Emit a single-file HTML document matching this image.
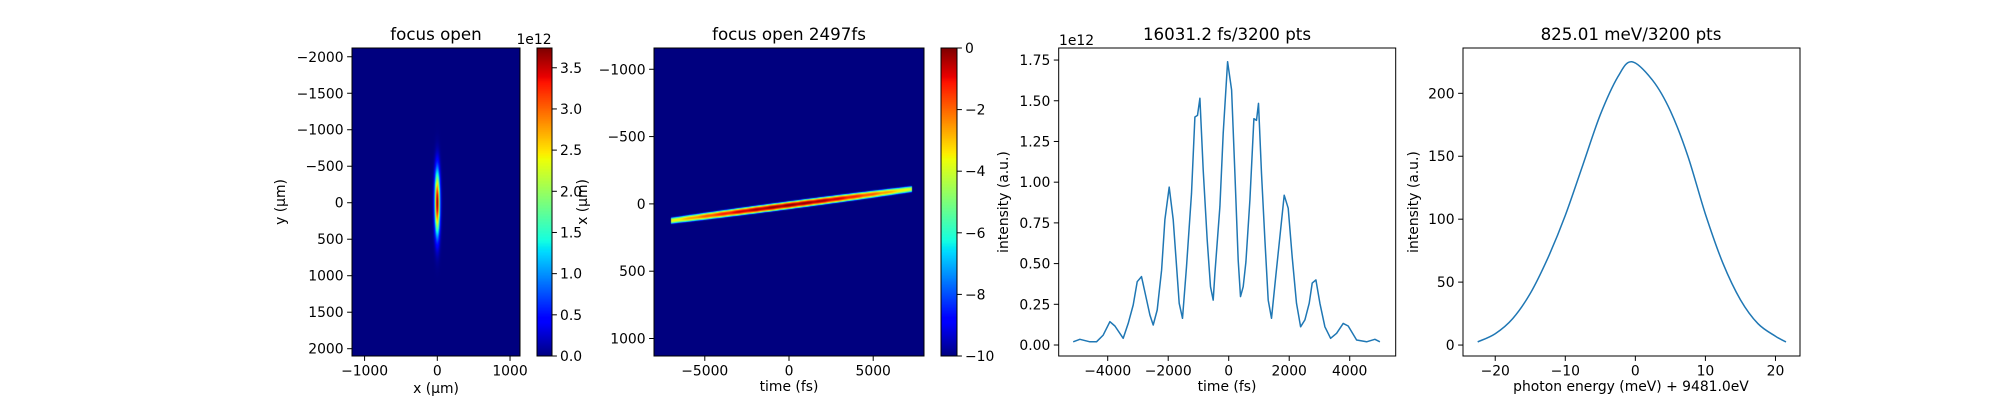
<!DOCTYPE html>
<html><head><meta charset="utf-8">
<style>
html,body{margin:0;padding:0;background:#fff;}
#wrap{position:relative;width:2000px;height:400px;overflow:hidden;font-family:"DejaVu Sans","Liberation Sans",sans-serif;}
canvas{position:absolute;}
svg{position:absolute;left:0;top:0;}
text{font-family:"DejaVu Sans","Liberation Sans",sans-serif;fill:#000;}
</style></head>
<body>
<div id="wrap">
<canvas id="hm1"></canvas>
<canvas id="hm2"></canvas>
<canvas id="cb1"></canvas>
<canvas id="cb2"></canvas>
<svg id="svg" width="2000" height="400"></svg>
</div>
<script>
// ---- panel 3 data: time profile ----
const timeFs = [-5140,-4919,-4589,-4369,-4148,-3928,-3763,-3487,-3322,-3157,-3025,-2882,-2738,-2606,-2496,-2364,-2220,-2110,-1967,-1835,-1747,-1637,-1526,-1394,-1229,-1119,-1031,-954,-843,-711,-601,-513,-457,-292,-182,-38,94,204,314,391,480,568,700,832,920,986,1085,1195,1306,1416,1559,1691,1835,1967,2099,2242,2375,2518,2661,2761,2882,3014,3179,3367,3565,3785,3950,4226,4557,4832,4997];
const intensity1e12 = [0.02,0.035,0.02,0.02,0.061,0.143,0.117,0.041,0.133,0.246,0.389,0.42,0.297,0.184,0.123,0.215,0.46,0.77,0.97,0.77,0.54,0.256,0.164,0.48,0.93,1.40,1.41,1.515,1.075,0.645,0.358,0.276,0.44,0.85,1.30,1.74,1.566,1.054,0.52,0.297,0.358,0.51,0.89,1.39,1.38,1.484,1.054,0.645,0.276,0.164,0.43,0.665,0.92,0.84,0.54,0.256,0.112,0.154,0.256,0.38,0.40,0.256,0.112,0.041,0.072,0.133,0.117,0.031,0.02,0.035,0.02];
// ---- panel 4 data: spectrum ----
const energyMeV = [-22.5,-20,-17.5,-15,-12.5,-10,-7.5,-5,-2.5,-0.5,2.5,5,7.5,10,12.5,15,17.5,20,21.5];
const spectrum = [2.5,9,21,41,69,103,143,183,213,225,210,186,150,104,65,36,17,7,2.5];
// ---- ticks ----
const p1XTicks=[-1000,0,1000], p1YTicks=[-2000,-1500,-1000,-500,0,500,1000,1500,2000];
const cb1Ticks=[0,0.5,1,1.5,2,2.5,3,3.5];
const p2XTicks=[-5000,0,5000], p2YTicks=[-1000,-500,0,500,1000];
const cb2Ticks=[0,-2,-4,-6,-8,-10];
const p3XTicks=[-4000,-2000,0,2000,4000], p3YTicks=[0,0.25,0.5,0.75,1,1.25,1.5,1.75];
const p4XTicks=[-20,-10,0,10,20], p4YTicks=[0,50,100,150,200];
// ---- heatmap parameters ----
const focusPeak=3.7, focusSigX=24, focusSigY=290;
const beamStart=[-7000,125], beamEnd=[7300,-110], beamSig=5, beamEnvWidth=1800;

const NS="http://www.w3.org/2000/svg";
const svg=document.getElementById('svg');
function el(tag,attrs,parent){const e=document.createElementNS(NS,tag);for(const k in attrs)e.setAttribute(k,attrs[k]);(parent||svg).appendChild(e);return e;}
function fmt(v,d){let s=d!=null?v.toFixed(d):String(v);return s.replace('-','\u2212');}
function scale(d0,d1,p0,p1){return v=>p0+(v-d0)/(d1-d0)*(p1-p0);}

function jet(t){t=Math.max(0,Math.min(1,t));
 const c=(x)=>Math.max(0,Math.min(1,x));
 const r=c(t<0.35?0:t<0.66?(t-0.35)/0.31:t<0.89?1:1-(t-0.89)/0.11*0.5);
 const g=c(t<0.125?0:t<0.375?(t-0.125)/0.25:t<0.64?1:t<0.91?1-(t-0.64)/0.27:0);
 const b=c(t<0.11?0.5+t/0.11*0.5:t<0.34?1:t<0.65?1-(t-0.34)/0.31:0);
 return [r*255|0,g*255|0,b*255|0];}

function axesFrame(name,x0,y0,x1,y1,xs,ys,xt,yt,xd,yd){
 const g=el('g',{});
 el('rect',{x:x0,y:y0,width:x1-x0,height:y1-y0,fill:'none',stroke:'#000','stroke-width':1},g);
 const gx=el('g',{},g);
 xt.forEach(v=>{const x=xs(v);el('line',{x1:x,x2:x,y1:y1,y2:y1+4.9,stroke:'#000','stroke-width':1},gx);
  const t=el('text',{x:x,y:y1+19.5,'font-size':13.9,'text-anchor':'middle'},gx);t.textContent=fmt(v,xd);});
 const gy=el('g',{},g);
 yt.forEach(v=>{const y=ys(v);el('line',{x1:x0,x2:x0-4.9,y1:y,y2:y,stroke:'#000','stroke-width':1},gy);
  const t=el('text',{x:x0-8.4,y:y+5,'font-size':13.9,'text-anchor':'end'},gy);t.textContent=fmt(v,yd);});
 return g;}
function label(txt,x,y,size,rot,name,anchor){const t=el('text',{x:x,y:y,'font-size':size,'text-anchor':anchor||'middle',});
 if(rot)t.setAttribute('transform','rotate(-90 '+x+' '+y+')');t.textContent=txt;return t;}

function placeCanvas(id,x0,y0,x1,y1){const c=document.getElementById(id);c.style.left=x0+'px';c.style.top=y0+'px';c.width=Math.round(x1-x0);c.height=Math.round(y1-y0);return c;}

// ===== Panel 1 =====
{const X0=352,X1=520,Y0=48,Y1=356;
 const xs=scale(-1173,1137,X0,X1), ys=scale(-2120,2100,Y0,Y1);
 const c=placeCanvas('hm1',X0,Y0,X1,Y1),ctx=c.getContext('2d'),img=ctx.createImageData(c.width,c.height);
 for(let j=0;j<c.height;j++)for(let i=0;i<c.width;i++){
  const xv=-1173+(i+0.5)/c.width*2310, yv=-2120+(j+0.5)/c.height*4220;
  const v=focusPeak*Math.exp(-xv*xv/(2*focusSigX*focusSigX)-yv*yv/(2*focusSigY*focusSigY));
  const col=jet(v/3.74),k=(j*c.width+i)*4;img.data[k]=col[0];img.data[k+1]=col[1];img.data[k+2]=col[2];img.data[k+3]=255;}
 ctx.putImageData(img,0,0);
 axesFrame('focus-axes',X0,Y0,X1,Y1,xs,ys,p1XTicks,p1YTicks);
 label('focus open',436,40,16.7,false,'focus-title');
 label('x (\u03bcm)',436,393,13.9,false,'focus-x-label');
 label('y (\u03bcm)',285,202,13.9,true,'focus-y-label');
 const C0=537,C1=552,cs=scale(0,3.74,Y1,Y0);
 const cb=placeCanvas('cb1',C0,Y0,C1,Y1),cctx=cb.getContext('2d');
 for(let j=0;j<cb.height;j++){const col=jet(1-j/cb.height);cctx.fillStyle='rgb('+col+')';cctx.fillRect(0,j,cb.width,1);}
 const g=el('g',{});
 el('rect',{x:C0,y:Y0,width:C1-C0,height:Y1-Y0,fill:'none',stroke:'#000'},g);
 cb1Ticks.forEach(v=>{const y=cs(v);el('line',{x1:C1,x2:C1+4.9,y1:y,y2:y,stroke:'#000'},g);
  const t=el('text',{x:C1+8,y:y+5,'font-size':13.9},g);t.textContent=v.toFixed(1);});
 label('1e12',534,44,13.9,false,'colorbar-1-offset');
 label('x (\u03bcm)',587,202,13.9,true,'colorbar-1-label');
}
// ===== Panel 2 =====
{const X0=654,X1=924,Y0=48,Y1=356;
 const xs=scale(-8016,8016,X0,X1), ys=scale(-1158,1130,Y0,Y1);
 const c=placeCanvas('hm2',X0,Y0,X1,Y1),ctx=c.getContext('2d'),img=ctx.createImageData(c.width,c.height);
 const slope=(beamEnd[1]-beamStart[1])/(beamEnd[0]-beamStart[0]);
 for(let j=0;j<c.height;j++)for(let i=0;i<c.width;i++){
  const tv=-8016+(i+0.5)/c.width*16032, yv=-1158+(j+0.5)/c.height*2288;
  let v=-10;
  if(tv>beamStart[0]&&tv<beamEnd[0]){
   const yc=beamStart[1]+slope*(tv-beamStart[0]), d=yv-yc;
   const env=Math.exp(-Math.pow(tv/beamEnvWidth,2)*0.9)*(0.35+0.65*Math.pow(Math.cos(Math.PI*tv/1000),2));
   v=Math.log10(env+1e-12)*0.6-d*d/(2*beamSig*beamSig)/Math.LN10;}
  const col=jet((Math.max(v,-10)+10)/10),k=(j*c.width+i)*4;img.data[k]=col[0];img.data[k+1]=col[1];img.data[k+2]=col[2];img.data[k+3]=255;}
 ctx.putImageData(img,0,0);
 axesFrame('time-axes',X0,Y0,X1,Y1,xs,ys,p2XTicks,p2YTicks);
 label('focus open 2497fs',789,40,16.7,false,'time-title');
 label('time (fs)',789,391,13.9,false,'time-x-label');
 const C0=941,C1=957,cs=scale(-10,0,Y1,Y0);
 const cb=placeCanvas('cb2',C0,Y0,C1,Y1),cctx=cb.getContext('2d');
 for(let j=0;j<cb.height;j++){const col=jet(1-j/cb.height);cctx.fillStyle='rgb('+col+')';cctx.fillRect(0,j,cb.width,1);}
 const g=el('g',{});
 el('rect',{x:C0,y:Y0,width:C1-C0,height:Y1-Y0,fill:'none',stroke:'#000'},g);
 cb2Ticks.forEach(v=>{const y=cs(v);el('line',{x1:C1,x2:C1+4.9,y1:y,y2:y,stroke:'#000'},g);
  const t=el('text',{x:C1+8,y:y+5,'font-size':13.9},g);t.textContent=fmt(v);});
}
// ===== Panel 3 =====
{const X0=1058.7,X1=1395.7,Y0=48,Y1=356;
 const xs=scale(-5620,5520,X0,X1), ys=scale(-0.0675,1.824,Y1,Y0);
 axesFrame('temporal-axes',X0,Y0,X1,Y1,xs,ys,p3XTicks,p3YTicks,null,2);
 const pts=timeFs.map((t,i)=>xs(t).toFixed(1)+','+ys(intensity1e12[i]).toFixed(1)).join(' ');
 el('polyline',{points:pts,fill:'none',stroke:'#1f77b4','stroke-width':1.5,'stroke-linejoin':'round',});
 label('16031.2 fs/3200 pts',1227,40,16.7,false,'temporal-title');
 label('1e12',1059,45,13.9,false,'temporal-offset','start');
 label('time (fs)',1227,391,13.9,false,'temporal-x-label');
 label('intensity (a.u.)',1008,202,13.9,true,'temporal-y-label');
}
// ===== Panel 4 =====
{const X0=1463,X1=1800,Y0=48,Y1=356;
 const xs=scale(-24.6,23.5,X0,X1), ys=scale(-8.7,236,Y1,Y0);
 axesFrame('spectrum-axes',X0,Y0,X1,Y1,xs,ys,p4XTicks,p4YTicks);
 const P=energyMeV.map((e,i)=>[xs(e),ys(spectrum[i])]);
 let d='M'+P[0][0].toFixed(1)+','+P[0][1].toFixed(1);
 for(let i=0;i<P.length-1;i++){const p0=P[Math.max(0,i-1)],p1=P[i],p2=P[i+1],p3=P[Math.min(P.length-1,i+2)];
  const c1=[p1[0]+(p2[0]-p0[0])/6,p1[1]+(p2[1]-p0[1])/6],c2=[p2[0]-(p3[0]-p1[0])/6,p2[1]-(p3[1]-p1[1])/6];
  d+=' C'+c1.map(v=>v.toFixed(1))+' '+c2.map(v=>v.toFixed(1))+' '+p2.map(v=>v.toFixed(1));}
 el('path',{d:d,fill:'none',stroke:'#1f77b4','stroke-width':1.5,});
 label('825.01 meV/3200 pts',1631,40,16.7,false,'spectrum-title');
 label('photon energy (meV) + 9481.0eV',1631,391,13.9,false,'spectrum-x-label');
 label('intensity (a.u.)',1418,202,13.9,true,'spectrum-y-label');
}
</script>
</body></html>
